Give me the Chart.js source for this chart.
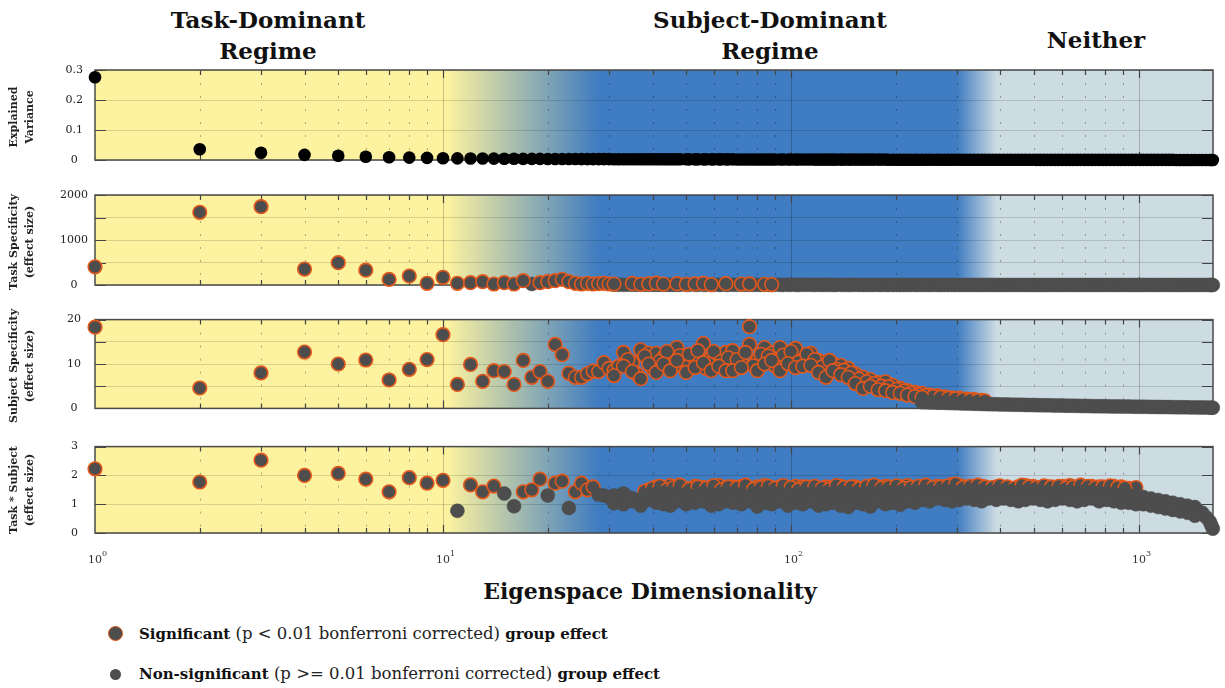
<!DOCTYPE html>
<html lang="en">
<head>
<meta charset="UTF-8" />
<title>Eigenspace Dimensionality</title>
<script src="https://cdn.jsdelivr.net/npm/chart.js"></script>
<style>
    body {
        margin: 0;
        background: #fff;
        font-family: 'DejaVu Serif', serif;
        color: #111;
    }

    .wrap {
        position: relative;
        width: 1225px;
        height: 688px;
        overflow: hidden;
    }

    canvas.panel {
        position: absolute;
        left: 0;
    }

    .regime {
        position: absolute;
        transform: translateX(-50%);
        text-align: center;
        font-weight: bold;
        font-size: 23px;
        line-height: 31px;
        white-space: nowrap;
    }

    .ylab {
        position: absolute;
        left: 22px;
        transform: translate(-50%, -50%) rotate(-90deg);
        text-align: center;
        font-weight: bold;
        font-size: 11px;
        line-height: 16px;
        white-space: nowrap;
        color: #222;
    }

    .xlab {
        position: absolute;
        left: 650px;
        top: 578px;
        transform: translateX(-50%);
        font-weight: bold;
        font-size: 22px;
        line-height: 26px;
        white-space: nowrap;
    }

    .legend-row {
        position: absolute;
        left: 139px;
        font-size: 16.5px;
        line-height: 20px;
        white-space: nowrap;
        color: #222;
    }

    .legend-row b {
        font-size: 15px;
        color: #111;
    }

    .mk {
        position: absolute;
        border-radius: 50%;
        box-sizing: border-box;
        background: #4d4d4d;
    }
</style>
</head>
<body>
<div class="wrap">
    <div class="regime" style="left:268px; top:4px">Task-Dominant<br>Regime</div>
    <div class="regime" style="left:770px; top:4px">Subject-Dominant<br>Regime</div>
    <div class="regime" style="left:1096px; top:24px">Neither</div>

    <canvas id="p1" class="panel" width="1225" height="130" style="top:50px"></canvas>
    <canvas id="p2" class="panel" width="1225" height="130" style="top:175px"></canvas>
    <canvas id="p3" class="panel" width="1225" height="130" style="top:299px"></canvas>
    <canvas id="p4" class="panel" width="1225" height="150" style="top:423px"></canvas>

    <div class="ylab" style="top:117px">Explained<br>Variance</div>
    <div class="ylab" style="top:242px">Task Specificity<br>(effect size)</div>
    <div class="ylab" style="top:366px">Subject Specificity<br>(effect size)</div>
    <div class="ylab" style="top:490px">Task * Subject<br>(effect size)</div>

    <div class="xlab">Eigenspace Dimensionality</div>

    <span class="mk" style="left:107.5px; top:625.5px; width:15px; height:15px; border:1.6px solid #e2581c"></span>
    <div class="legend-row" style="top:624px"><b>Significant</b> (p &lt; 0.01 bonferroni corrected) <b>group effect</b></div>
    <span class="mk" style="left:109.5px; top:668.5px; width:11px; height:11px"></span>
    <div class="legend-row" style="top:664px"><b>Non-significant</b> (p &gt;= 0.01 bonferroni corrected) <b>group effect</b></div>
</div>

<script>
    // dimensions shown one by one, then the crowded part of the log axis (two interleaved grids)
    const lowDims = [1, 2, 3, 4, 5, 6, 7, 8, 9, 10, 11, 12, 13, 14, 15, 16, 17, 18, 19, 20,
        21, 22, 23, 24, 25, 26, 27, 28, 29, 30];
    const denseDims = [31, 33, 35, 37, 39, 41, 43, 45, 47, 50, 53, 56, 59, 62, 65, 68, 72, 76, 80, 84,
        88, 93, 98, 103, 108, 114, 120, 126, 132, 139, 146, 153, 161, 169, 178, 187, 196, 206, 216, 227,
        238, 250, 263, 276, 290, 305, 320, 336, 353, 370, 389, 408, 428, 450, 472, 496, 520, 546, 574, 602,
        632, 664, 697, 732, 768, 807, 847, 889, 934, 980, 1029, 1081, 1135, 1191, 1251, 1313, 1379, 1448, 1520, 1596,
        1630];
    const midDims = [32, 34, 36, 38, 40, 42, 44, 46, 48, 51, 54, 57, 60, 63, 66, 70, 74, 78, 82, 86,
        90, 95, 100, 105, 111, 117, 123, 129, 135, 142, 149, 157, 165, 173, 182, 191, 201, 211, 221, 232,
        244, 256, 269, 283, 297, 312, 328, 344, 361, 379, 398, 418, 439, 461, 484, 508, 533, 560, 588, 617,
        648, 680, 714, 750, 787, 827, 868, 911, 957, 1005, 1055, 1108, 1163, 1221, 1282, 1346, 1413, 1484, 1558, 1613];
    const xMax = 1632;
    const xTickValues = [1, 10, 100, 1000];
    const regimeEdges = [10.3, 28, 300, 390];

    // Explained variance
    const varLow = [0.276, 0.036, 0.024, 0.017, 0.014, 0.011, 0.009, 0.008, 0.007, 0.006,
        0.0055, 0.005, 0.0048, 0.0045, 0.0043, 0.004, 0.0039, 0.0037, 0.0036, 0.0035,
        0.0034, 0.0033, 0.0032, 0.0031, 0.003, 0.003, 0.0029, 0.0029, 0.0028, 0.0028];
    const varDense = [0.0027, 0.0027, 0.0026, 0.0026, 0.0025, 0.0025, 0.0024, 0.0024, 0.0023, 0.0023,
        0.0022, 0.0022, 0.0021, 0.0021, 0.002, 0.002, 0.0019, 0.0019, 0.0018, 0.0018,
        0.0017, 0.0017, 0.0016, 0.0016, 0.0015, 0.0015, 0.0014, 0.0014, 0.0013, 0.0013,
        0.0012, 0.0012, 0.0012, 0.0011, 0.0011, 0.0011, 0.001, 0.001, 0.001, 0.0009,
        0.0009, 0.0009, 0.0009, 0.0008, 0.0008, 0.0008, 0.0008, 0.0007, 0.0007, 0.0007,
        0.0007, 0.0006, 0.0006, 0.0006, 0.0006, 0.0006, 0.0005, 0.0005, 0.0005, 0.0005,
        0.0005, 0.0005, 0.0004, 0.0004, 0.0004, 0.0004, 0.0004, 0.0004, 0.0003, 0.0003,
        0.0003, 0.0003, 0.0003, 0.0003, 0.0003, 0.0002, 0.0002, 0.0002, 0.0002, 0.0002,
        0.0002];
    const varMid = [0.0027, 0.0026, 0.0026, 0.0025, 0.0025, 0.0024, 0.0024, 0.0023, 0.0023, 0.0022,
        0.0022, 0.0021, 0.0021, 0.002, 0.002, 0.0019, 0.0019, 0.0018, 0.0018, 0.0017,
        0.0017, 0.0016, 0.0016, 0.0015, 0.0015, 0.0014, 0.0014, 0.0013, 0.0013, 0.0012,
        0.0012, 0.0012, 0.0011, 0.0011, 0.0011, 0.001, 0.001, 0.001, 0.0009, 0.0009,
        0.0009, 0.0009, 0.0008, 0.0008, 0.0008, 0.0008, 0.0007, 0.0007, 0.0007, 0.0007,
        0.0006, 0.0006, 0.0006, 0.0006, 0.0006, 0.0005, 0.0005, 0.0005, 0.0005, 0.0005,
        0.0005, 0.0004, 0.0004, 0.0004, 0.0004, 0.0004, 0.0004, 0.0003, 0.0003, 0.0003,
        0.0003, 0.0003, 0.0003, 0.0003, 0.0002, 0.0002, 0.0002, 0.0002, 0.0002, 0.0002];

    // Task specificity (effect size)
    const taskLow = [405, 1615, 1740, 355, 495, 330, 125, 200, 38, 170,
        38, 51, 73, 22, 51, 22, 95, 22, 51, 73,
        95, 126, 73, 38, 22, 38, 22, 30, 38, 22];
    const taskLowSig = [1, 1, 1, 1, 1, 1, 1, 1, 1, 1, 1, 1, 1, 1, 1, 1, 1, 0, 1, 1,
        1, 1, 1, 1, 1, 1, 1, 1, 1, 1];
    const taskDenseSig = [20, null, 35, 15, 25, 40, 20, null, 30, 15, 25, 35, 10, null, 30, null, 20, 25, null, 15,
        10];
    const taskDenseNs = [5, 4, 6, 5, 4, 5, 4, 5, 4, 4, 4, 5, 4, 4, 3, 4, 4, 3, 4, 3,
        3, 3, 3, 3, 3, 3, 3, 3, 2, 3, 2, 3, 2, 2, 2, 2, 2, 2, 2, 2,
        2, 2, 2, 2, 2, 2, 2, 2, 1, 2, 1, 1, 1, 1, 1, 1, 1, 1, 1, 1,
        1, 1, 1, 1, 1, 1, 1, 1, 1, 1, 1, 1, 1, 1, 1, 1, 1, 1, 1, 1,
        1];
    const taskMidNs = [4, 5, 4, 4, 5, 4, 4, 3, 4, 4, 3, 4, 3, 3, 4, 3, 3, 3, 3, 3,
        3, 2, 3, 2, 3, 2, 2, 3, 2, 2, 2, 2, 2, 2, 2, 2, 2, 2, 2, 2,
        2, 2, 1, 2, 1, 1, 1, 1, 1, 1, 1, 1, 1, 1, 1, 1, 1, 1, 1, 1,
        1, 1, 1, 1, 1, 1, 1, 1, 1, 1, 1, 1, 1, 1, 1, 1, 1, 1, 1, 1];

    // Subject specificity (effect size)
    const subjLow = [18.3, 4.6, 8.0, 12.7, 10.0, 10.9, 6.4, 8.8, 11.0, 16.6,
        5.4, 9.9, 6.1, 8.5, 8.3, 5.4, 10.8, 7.0, 8.3, 6.1,
        14.4, 12.1, 7.9, 7.0, 7.0, 7.8, 8.4, 8.3, 10.3, 9.0];
    const subjDenseA = [8.5, 12.6, 10.3, 13.2, 12.4, 12.4, 11.5, 10.1, 13.7, 10.8,
        11.2, 14.6, 11.5, 12.0, 12.6, 13.0, 10.1, 14.4, 10.8, 13.7,
        12.4, 13.7, 11.5, 13.5, 10.8, 12.4, 10.8, 9.7, 10.1, 9.7,
        9.0, 7.8, 7.0, 6.5, 5.8, 6.0, 5.2, 4.5, 4.0, 3.6,
        3.4, 3.0, 2.9, 2.6, 2.4, 2.3, 2.1, 2.0, 1.8];
    const subjDenseB = [7.4, 9.5, 8.3, 6.7, 10.0, 8.1, 10.0, 8.5, 10.8, 8.1,
        9.2, 10.3, 8.5, 9.5, 8.5, 8.5, 9.2, 18.4, 8.5, 10.0,
        10.8, 8.5, 10.1, 9.2, 9.5, 9.7, 8.1, 7.0, 8.5, 7.6,
        7.0, 5.6, 4.5, 5.0, 4.2, 4.0, 3.6, 3.4, 3.0, 2.7,
        2.5];
    const subjMid = [9.5, 11.0, 7.8, 11.8, 9.0, 10.6, 12.8, 9.4, 11.9, 12.2,
        13.0, 9.0, 12.8, 10.6, 11.4, 11.0, 12.6, 9.6, 12.2, 11.8,
        9.6, 12.0, 12.8, 10.4, 12.2, 11.0, 9.4, 10.8, 8.8, 8.6,
        8.0, 6.6, 6.0, 5.6, 5.0, 4.9, 4.3, 3.9, 3.4, 3.1,
        2.9, 2.7, 2.5, 2.3, 2.2, 2.0, 1.9, 1.8, 1.7];
    const subjDenseNs = [null, null, null, null, null, null, null, null, null, null,
        null, null, null, null, null, null, null, null, null, null,
        null, null, null, null, null, null, null, null, null, null,
        null, null, null, null, null, null, null, null, null, null,
        1.4, 1.35, 1.3, 1.25, 1.2, 1.15, 1.1, 1.05, 1.0, 0.95,
        0.92, 0.88, 0.85, 0.82, 0.78, 0.75, 0.72, 0.69, 0.66, 0.63,
        0.6, 0.57, 0.54, 0.51, 0.48, 0.46, 0.44, 0.42, 0.4, 0.38,
        0.36, 0.34, 0.32, 0.3, 0.28, 0.26, 0.24, 0.22, 0.2, 0.17,
        0.15];
    const subjMidNs = [null, null, null, null, null, null, null, null, null, null,
        null, null, null, null, null, null, null, null, null, null,
        null, null, null, null, null, null, null, null, null, null,
        null, null, null, null, null, null, null, null, null, null,
        1.38, 1.32, 1.28, 1.22, 1.18, 1.12, 1.08, 1.02, 0.98, 0.93,
        0.9, 0.86, 0.83, 0.8, 0.76, 0.73, 0.7, 0.67, 0.64, 0.61,
        0.58, 0.55, 0.52, 0.5, 0.47, 0.45, 0.43, 0.41, 0.39, 0.37,
        0.35, 0.33, 0.31, 0.29, 0.27, 0.25, 0.23, 0.21, 0.18, 0.16];

    // Task * Subject (effect size)
    const intLow = [2.23, 1.77, 2.53, 2.0, 2.07, 1.87, 1.43, 1.92, 1.73, 1.83,
        0.77, 1.67, 1.43, 1.63, 1.37, 0.93, 1.43, 1.5, 1.87, 1.3,
        1.73, 1.8, 0.87, 1.43, 1.73, 1.5, 1.6, 1.33, 1.3, 1.25];
    const intLowSig = [1, 1, 1, 1, 1, 1, 1, 1, 1, 1, 0, 1, 1, 1, 0, 0, 1, 1, 1, 0,
        1, 1, 0, 1, 1, 1, 1, 0, 0, 0];
    const intDenseSig = [null, null, null, null, 1.5, 1.6, 1.55, 1.65, 1.6, 1.55,
        1.62, 1.58, 1.6, 1.65, 1.55, 1.6, 1.62, 1.55, 1.6, 1.65,
        1.58, 1.6, 1.55, 1.62, 1.6, 1.5, 1.55, 1.6, 1.58, 1.62,
        1.55, 1.6, 1.52, 1.58, 1.6, 1.62, 1.55, 1.6, 1.65, 1.58,
        1.6, 1.55, 1.62, 1.6, 1.68, 1.65, 1.6, 1.58, 1.62, 1.55,
        1.6, 1.58, 1.55, 1.6, 1.65, 1.62, 1.58, 1.6, 1.55, 1.62,
        1.65, 1.6, 1.58, 1.62, 1.6, 1.58, 1.62, 1.6, 1.55, 1.58];
    const intMidSig = [null, null, null, 1.45, 1.55, 1.62, 1.5, 1.58, 1.66, 1.52,
        1.6, 1.55, 1.64, 1.5, 1.6, 1.57, 1.66, 1.52, 1.58, 1.62,
        1.55, 1.65, 1.58, 1.5, 1.6, 1.62, 1.56, 1.52, 1.65, 1.58,
        1.6, 1.54, 1.62, 1.66, 1.56, 1.6, 1.64, 1.55, 1.58, 1.62,
        1.66, 1.58, 1.6, 1.64, 1.7, 1.58, 1.62, 1.66, 1.6, 1.58,
        1.64, 1.6, 1.56, 1.66, 1.6, 1.58, 1.64, 1.6, 1.62, 1.56,
        1.6, 1.66, 1.62, 1.58, 1.6, 1.64, 1.58, 1.56];
    const intDenseHi = [1.3, 1.37, 1.2, 1.1, 1.3, 1.35, 1.4, 1.3, 1.38, 1.35,
        1.3, 1.4, 1.35, 1.3, 1.42, 1.38, 1.35, 1.3, 1.4, 1.35,
        1.42, 1.38, 1.35, 1.3, 1.4, 1.35, 1.38, 1.4, 1.35, 1.42,
        1.4, 1.38, 1.35, 1.42, 1.4, 1.45, 1.4, 1.42, 1.38, 1.45,
        1.42, 1.45, 1.4, 1.48, 1.45, 1.42, 1.45, 1.5, 1.45, 1.42,
        1.45, 1.48, 1.45, 1.42, 1.45, 1.48, 1.45, 1.42, 1.4, 1.45,
        1.42, 1.4, 1.45, 1.42, 1.4, 1.38, 1.35, 1.32, 1.3, 1.28,
        1.25, 1.2, 1.15, 1.1, 1.05, 1.0, 0.95, 0.9, 0.7, 0.4,
        0.15];
    const intDenseLo = [1.03, 1.0, 1.1, 0.95, 1.15, 1.05, 1.0, 0.95, 1.1, 1.0,
        1.05, 1.1, 0.95, 1.0, 1.1, 1.05, 1.0, 1.1, 0.92, 1.05,
        1.0, 1.1, 0.95, 1.05, 1.0, 1.1, 0.95, 1.0, 1.05, 0.95,
        0.9, 1.05, 1.0, 0.92, 1.1, 1.0, 1.05, 0.98, 1.1, 1.05,
        1.15, 1.1, 1.2, 1.15, 1.1, 1.15, 1.2, 1.15, 1.1, 1.2,
        1.15, 1.2, 1.15, 1.1, 1.15, 1.2, 1.15, 1.1, 1.15, 1.2,
        1.15, 1.1, 1.15, 1.2, 1.1, 1.15, 1.1, 1.05, 1.05, 1.0,
        1.0, 0.95, 0.9, 0.85, 0.8, 0.75, 0.7, 0.6];
    const intMidNs = [1.2, 1.25, 1.15, 1.3, 1.22, 1.18, 1.25, 1.2, 1.28, 1.2,
        1.22, 1.18, 1.26, 1.2, 1.25, 1.2, 1.24, 1.18, 1.26, 1.2,
        1.22, 1.18, 1.25, 1.2, 1.24, 1.2, 1.26, 1.22, 1.18, 1.25,
        1.22, 1.2, 1.26, 1.22, 1.25, 1.28, 1.25, 1.3, 1.26, 1.3,
        1.32, 1.3, 1.34, 1.3, 1.35, 1.32, 1.3, 1.35, 1.32, 1.3,
        1.34, 1.32, 1.3, 1.34, 1.3, 1.32, 1.3, 1.28, 1.3, 1.32,
        1.28, 1.3, 1.26, 1.28, 1.25, 1.22, 1.2, 1.18, 1.15, 1.15,
        1.15, 1.1, 1.05, 1.0, 0.95, 0.9, 0.85, 0.75, 0.55, 0.28];

    const yellow = '#fcf2a0';
    const blue = '#3f7cc1';
    const light = '#cddbe3';
    const markFill = '#4d4d4d';
    const markEdge = '#e2581c';

    // pick points of one kind (flag 1 = significant, 0 = not) from a series
    function pts(dims, vals, flags, want) {
        const out = [];
        vals.forEach((v, i) => {
            if (v == null) return;
            if (flags && flags[i] !== want) return;
            out.push({ x: dims[i], y: v });
        });
        return out;
    }

    const sigStyle = {
        pointRadius: 6.8, pointBackgroundColor: markFill, pointBorderColor: markEdge,
        pointBorderWidth: 1.6, clip: false
    };
    const nsStyle = {
        pointRadius: 7, pointBackgroundColor: markFill, pointBorderColor: markFill,
        pointBorderWidth: 0.5, clip: false
    };

    // background regimes, dashed log grid, inward ticks, frame, x labels
    const panelDeco = {
        id: 'panelDeco',
        beforeDraw(chart) {
            const { ctx, chartArea: a, scales: { x } } = chart;
            const f = v => Math.min(1, Math.max(0, (x.getPixelForValue(v) - a.left) / a.width));
            const g = ctx.createLinearGradient(a.left, 0, a.right, 0);
            g.addColorStop(0, yellow);
            g.addColorStop(f(regimeEdges[0]), yellow);
            g.addColorStop(f(regimeEdges[1]), blue);
            g.addColorStop(f(regimeEdges[2]), blue);
            g.addColorStop(f(regimeEdges[3]), light);
            g.addColorStop(1, light);
            ctx.save();
            ctx.fillStyle = g;
            ctx.fillRect(a.left, a.top, a.width, a.height);
            ctx.restore();
        },
        beforeDatasetsDraw(chart) {
            const { ctx, chartArea: a, scales: { x, y } } = chart;
            ctx.save();
            for (let d = 1; d <= 1000; d *= 10) {
                for (let m = 1; m <= 9; m++) {
                    const v = m * d;
                    if (v <= x.min || v >= x.max) continue;
                    const px = Math.round(x.getPixelForValue(v)) + 0.5;
                    const major = m === 1;
                    ctx.beginPath();
                    ctx.setLineDash(major ? [] : [2, 11]);
                    ctx.strokeStyle = major ? 'rgba(0,0,0,0.2)' : 'rgba(0,0,0,0.3)';
                    ctx.lineWidth = 1;
                    ctx.moveTo(px, a.top);
                    ctx.lineTo(px, a.bottom);
                    ctx.stroke();

                    ctx.setLineDash([]);
                    ctx.strokeStyle = '#444';
                    ctx.lineWidth = 1.2;
                    const tl = major ? 8 : 5;
                    ctx.beginPath();
                    ctx.moveTo(px, a.top);
                    ctx.lineTo(px, a.top + tl);
                    ctx.moveTo(px, a.bottom);
                    ctx.lineTo(px, a.bottom - tl);
                    ctx.stroke();
                }
            }
            ctx.strokeStyle = '#444';
            ctx.lineWidth = 1.2;
            y.ticks.forEach(t => {
                const py = Math.round(y.getPixelForValue(t.value)) + 0.5;
                ctx.beginPath();
                ctx.moveTo(a.left, py);
                ctx.lineTo(a.left + 11, py);
                ctx.moveTo(a.right, py);
                ctx.lineTo(a.right - 11, py);
                ctx.stroke();
            });
            ctx.strokeStyle = '#4a4a4a';
            ctx.lineWidth = 1.5;
            ctx.strokeRect(a.left, a.top, a.width, a.height);
            ctx.restore();
        },
        afterDraw(chart, args, opts) {
            if (!opts.showX) return;
            const { ctx, chartArea: a, scales: { x } } = chart;
            ctx.save();
            ctx.fillStyle = '#333';
            xTickValues.forEach(v => {
                const px = x.getPixelForValue(v);
                ctx.font = '11px "DejaVu Serif"';
                ctx.textAlign = 'center';
                ctx.fillText('10', px, a.bottom + 30);
                const w = ctx.measureText('10').width;
                ctx.font = '8px "DejaVu Serif"';
                ctx.textAlign = 'left';
                ctx.fillText(String(Math.round(Math.log10(v))), px + w / 2, a.bottom + 23);
            });
            ctx.restore();
        }
    };

    function panel(id, cfg) {
        return new Chart(document.getElementById(id), {
            type: 'scatter',
            data: { datasets: cfg.datasets },
            plugins: [panelDeco],
            options: {
                responsive: false,
                animation: false,
                events: [],
                layout: { padding: { top: 20, right: 12, bottom: cfg.padBottom, left: 0 } },
                plugins: {
                    legend: { display: false },
                    tooltip: { enabled: false },
                    panelDeco: { showX: cfg.showX }
                },
                scales: {
                    x: { type: 'logarithmic', min: 1, max: xMax, display: false },
                    y: {
                        min: 0,
                        max: cfg.max,
                        afterFit: s => { s.width = 95; },
                        border: { display: false },
                        grid: { color: 'rgba(0,0,0,0.14)', drawTicks: false },
                        ticks: {
                            stepSize: cfg.step,
                            padding: cfg.pad,
                            crossAlign: 'center',
                            color: '#222',
                            font: { family: 'DejaVu Serif', size: 11 },
                            callback: cfg.label
                        }
                    }
                }
            }
        });
    }

    panel('p1', {
        max: 0.3, step: 0.05, pad: 12, padBottom: 20, showX: false,
        label: v => Math.abs(v * 10 - Math.round(v * 10)) < 1e-6 ? (v === 0 ? '0' : v.toFixed(1)) : '',
        datasets: [{
            data: pts(lowDims, varLow).concat(pts(denseDims, varDense), pts(midDims, varMid)),
            pointRadius: 6.3, pointBackgroundColor: '#000', pointBorderWidth: 0, clip: false
        }]
    });

    panel('p2', {
        max: 2000, step: 500, pad: 7, padBottom: 20, showX: false,
        label: v => v % 1000 === 0 ? String(v) : '',
        datasets: [
            Object.assign({ order: 0, data: pts(lowDims, taskLow, taskLowSig, 1).concat(pts(denseDims, taskDenseSig)) }, sigStyle),
            Object.assign({ order: 1, data: pts(lowDims, taskLow, taskLowSig, 0).concat(pts(denseDims, taskDenseNs), pts(midDims, taskMidNs)) }, nsStyle)
        ]
    });

    panel('p3', {
        max: 20, step: 5, pad: 14, padBottom: 20, showX: false,
        label: v => v % 10 === 0 ? String(v) : '',
        datasets: [
            Object.assign({ order: 1, data: pts(lowDims, subjLow).concat(pts(denseDims, subjDenseA), pts(midDims, subjMid), pts(denseDims, subjDenseB)) }, sigStyle),
            Object.assign({ order: 0, data: pts(denseDims, subjDenseNs).concat(pts(midDims, subjMidNs)) }, nsStyle)
        ]
    });

    panel('p4', {
        max: 3, step: 0.5, pad: 17, padBottom: 40, showX: true,
        label: v => Number.isInteger(v) ? String(v) : '',
        datasets: [
            Object.assign({ order: 1, data: pts(lowDims, intLow, intLowSig, 1).concat(pts(denseDims, intDenseSig), pts(midDims, intMidSig)) }, sigStyle),
            Object.assign({ order: 0, data: pts(lowDims, intLow, intLowSig, 0).concat(pts(denseDims, intDenseHi), pts(midDims, intMidNs), pts(denseDims, intDenseLo)) }, nsStyle)
        ]
    });
</script>
</body>
</html>
